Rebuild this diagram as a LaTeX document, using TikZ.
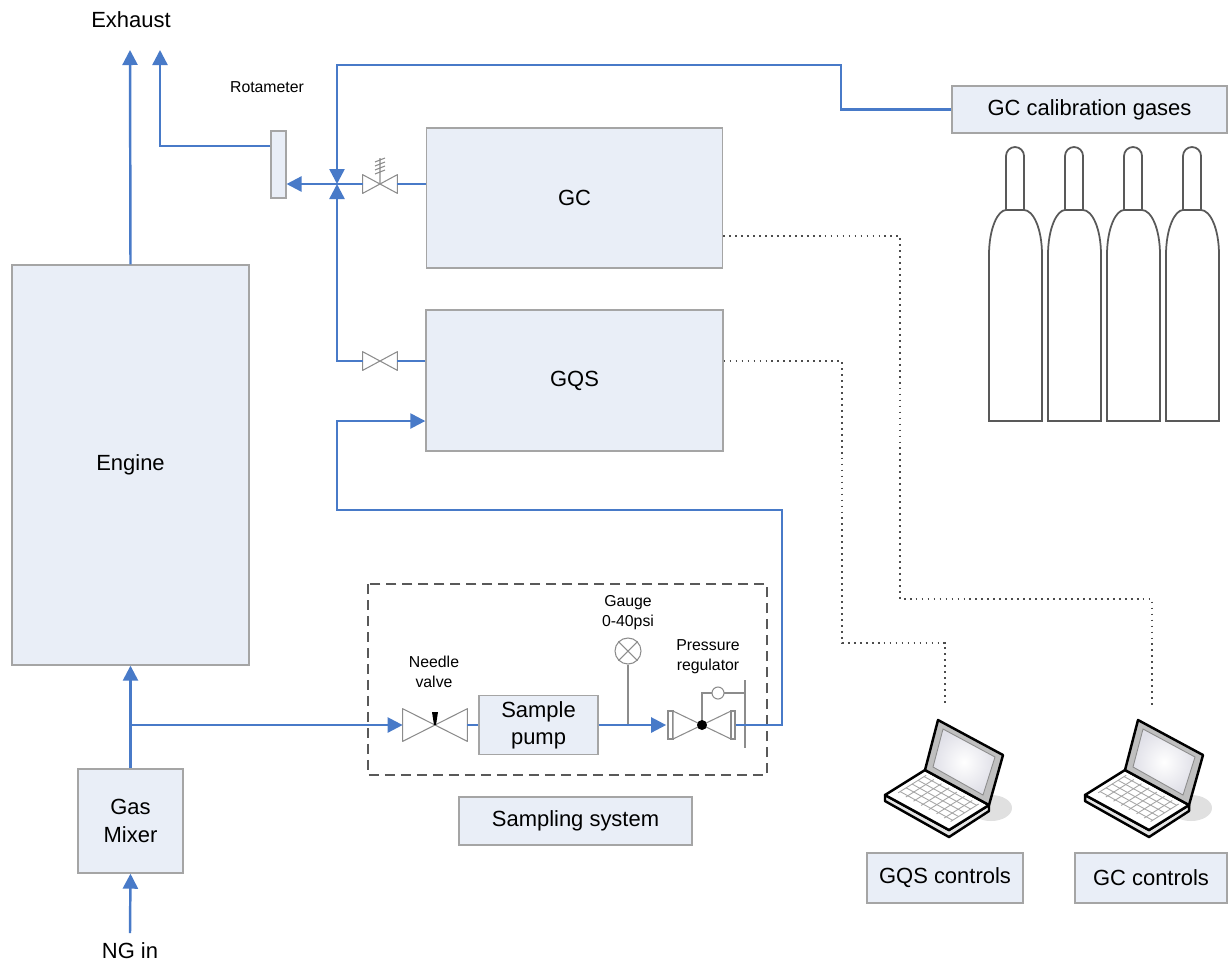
\documentclass[tikz,border=0pt]{standalone}
\usepackage{fontspec}
\setmainfont{Liberation Sans}
\usetikzlibrary{arrows.meta, positioning, calc}

\definecolor{pipeblue}{RGB}{72,122,200}
\definecolor{boxfill}{RGB}{233,238,247}
\definecolor{boxedge}{RGB}{165,165,165}
\definecolor{valvegray}{RGB}{140,140,140}

\tikzset{
  box/.style={rectangle, draw=boxedge, fill=boxfill, line width=0.8pt, inner sep=0pt, align=center, font=\fontsize{12.5}{15.5}\selectfont},
  big text/.style={font=\fontsize{12.5}{15.5}\selectfont, align=center, inner sep=0pt},
  note/.style={font=\fontsize{9}{11.4}\selectfont, align=center, inner sep=0pt},
  pipe/.style={draw=pipeblue, line width=1.4pt},
  flow/.style={pipe, -{Triangle[length=0.3cm, width=0.3cm]}},
  valve/.style={rectangle, inner sep=0pt, minimum width=0.68cm, minimum height=0.36cm},
  wire/.style={draw=black!70, line width=1pt, dash pattern=on 1pt off 2.4pt},
  frame/.style={draw=black!65, line width=0.9pt, dash pattern=on 0.2cm off 0.12cm},
  bottle/.style={draw=black!65, line width=1pt, fill=white},
  % laptop, drawn from the left end of the hinge
  pics/laptop/.style={code={
    \fill[black!12] (66,38) ellipse [x radius=0.42cm, y radius=0.26cm];
    \draw[line width=1.4pt, fill=black!10, line join=round]
      (-40,25) -- (-40,31) -- (24,67) -- (64,41) -- (64,35) -- (24,60) -- cycle;
    \draw[line width=1.4pt, fill=white, line join=round]
      (0,0) -- (64,35) -- (24,60) -- (-40,25) -- cycle;
    \foreach \v in {0.15,0.3,0.45,0.6,0.75}
      \draw[black!35, line width=0.5pt] (5.1-40*\v, 2.8+25*\v) -- (57.6-40*\v, 31.5+25*\v);
    \foreach \u in {0.08,0.2,0.32,0.44,0.56,0.68,0.8,0.9}
      \draw[black!35, line width=0.5pt] (64*\u-4, 35*\u+2.5) -- (64*\u-32, 35*\u+20);
    \draw[line width=1.4pt, fill=black!25, line join=round]
      (0,0) -- (13,-50) -- (78,-15) -- (64,35) -- cycle;
    \draw[black!45, line width=0.5pt, inner color=white, outer color=blue!25!black!12]
      (8,-3) -- (18,-41) -- (70,-13) -- (58,25) -- cycle;
  }}
}

\newcommand{\drawvalve}[1]{%
  \draw[valvegray, line width=0.6pt, fill=white, line join=round]
    (#1.south west) -- (#1.north east) -- (#1.south east) -- (#1.north west) -- cycle;}

\begin{document}
\begin{tikzpicture}[x=0.02cm, y=-0.02cm]
\useasboundingbox (0,0) rectangle (1229,965);

% Engine and gas supply
\node[big text] (exhaust) at (131,20) {Exhaust};
\coordinate (exhA) at (130,50);
\coordinate (exhB) at (160,50);
\node[box, minimum width=4.74cm, minimum height=8cm] (engine) at (130.5,465) {Engine};
\node[box, minimum width=2.1cm, minimum height=2.08cm] (mixer) at (130.5,821) {Gas\\Mixer};
\node[big text] (ngin) at (130,951) {NG in};
\coordinate (ngstart) at (130,933);
\coordinate (tee) at (130,725);

% Analysers
\node[box, minimum width=0.3cm, minimum height=1.34cm, line width=0.6pt] (rota) at (278.5,164.5) {};
\node[note] (rotatag) at (267,87) {Rotameter};
\node[box, minimum width=5.92cm, minimum height=2.8cm] (gc) at (574.5,198) {GC};
\node[box, minimum width=5.94cm, minimum height=2.82cm] (gqs) at (574.5,380.5) {GQS};
\node[box, minimum width=5.5cm, minimum height=0.94cm] (cal) at (1089.5,109.5) {GC calibration gases};
\node[valve] (gcvalve) at (380,184) {};
\node[valve] (gqsvalve) at (380,361) {};
\coordinate (jct) at (337,184);

% Sampling system
\node[valve, minimum width=1.28cm, minimum height=0.64cm] (needle) at (435,725) {};
\node[note] (needletag) at (434,672) {Needle\\valve};
\node[box, minimum width=2.38cm, minimum height=1.18cm] (pump) at (538.5,725) {Sample\\pump};
\node[circle, draw=valvegray, line width=0.6pt, minimum size=0.52cm, inner sep=0pt] (gauge) at (628,651) {};
\node[note] (gaugetag) at (628,613) {Gauge\\0-40psi};
\node[valve, minimum width=1.34cm, minimum height=0.56cm] (reg) at (702,725) {};
\node[note] (regtag) at (708,657) {Pressure\\regulator};
\node[box, minimum width=4.66cm, minimum height=0.96cm] (sampling) at (575.5,821) {Sampling system};

% Control PCs
\node[box, minimum width=3.12cm, minimum height=1cm] (gqsctl) at (945,878) {GQS controls};
\node[box, minimum width=3.04cm, minimum height=1cm] (gcctl) at (1151,878) {GC controls};
\pic at (925,770) {laptop};
\pic at (1125,770) {laptop};
\coordinate (gqsPC) at (945,703);
\coordinate (gcPC) at (1152,706);

% gas bottles
\foreach \cx in {989,1048,1107,1166}
  \draw[bottle] (\cx,421) -- (\cx,255) .. controls (\cx,228) and (\cx+9,210) .. (\cx+17,210)
    -- (\cx+17,156) arc[start angle=180, end angle=360, radius=9]
    -- (\cx+35,210) .. controls (\cx+44,210) and (\cx+53,228) .. (\cx+53,255)
    -- (\cx+53,421) -- cycle
    (\cx+17,210) -- (\cx+35,210);

% valve symbols
\drawvalve{gcvalve}
\drawvalve{gqsvalve}
\drawvalve{needle}
\draw[valvegray, line width=0.6pt] (gcvalve.center) -- ++(0,-26)
  \foreach \t in {160,164,168,172} { (375,\t+2) -- (385,\t-2) };
\fill (432,712) -- (438,712) -- (436,725) -- (434,725) -- cycle;
\draw[valvegray, line width=0.6pt] (gauge.north west) -- (gauge.south east)
  (gauge.north east) -- (gauge.south west);
\draw[valvegray, line width=0.6pt] (gauge.south) -- (gauge.south |- pump.east);

% pressure regulator
\begin{scope}[shift={(reg.center)}]
  \draw[valvegray, line width=0.6pt, fill=white] (-34,-14) rectangle (-29,14);
  \draw[valvegray, line width=0.6pt, fill=white, line join=round]
    (-29,14) -- (29,-14) -- (29,14) -- (-29,-14) -- cycle;
  \draw[valvegray, line width=0.6pt, fill=white] (29,-14) rectangle (33,14);
  \draw[valvegray, line width=0.6pt] (0,0) -- (0,-32) -- (10,-32)
    (22,-32) -- (43,-32) (43,-45) -- (43,23);
  \draw[valvegray, line width=0.6pt] (16,-32) circle[radius=0.12cm];
  \fill (0,0) circle[radius=0.1cm];
\end{scope}

\draw[frame] (368,584) rectangle (767,775);

% gas lines
\draw[flow] (engine.north) -- (exhA);
\draw[flow] (rota.west |- 0,146) -| (exhB);
\draw[pipe] (gc.west |- jct) -- (gcvalve.east);
\draw[flow] (gcvalve.west) -- (rota.east |- jct);
\draw[flow] (cal.west) -| (841,65) -| (jct);
\draw[pipe] (gqs.west |- gqsvalve) -- (gqsvalve.east);
\draw[flow] (gqsvalve.west) -| (jct);
\draw[flow] (ngstart) -- (mixer.south);
\draw[flow] (mixer.north) -- (engine.south);
\draw[flow] (tee) -- (needle.west);
\draw[pipe] (needle.east) -- (pump.west);
\draw[flow] (pump.east) -- ([xshift=-0.04cm]reg.west);
\draw[flow] (reg.east) -| (782,510) -| (337,421) -- (gqs.west |- 0,421);

% data links
\draw[wire] (gc.east |- 0,236) -| (900,599) -| (gcPC);
\draw[wire] (gqs.east |- 0,361) -| (842,643) -| (gqsPC);

\end{tikzpicture}
\end{document}
